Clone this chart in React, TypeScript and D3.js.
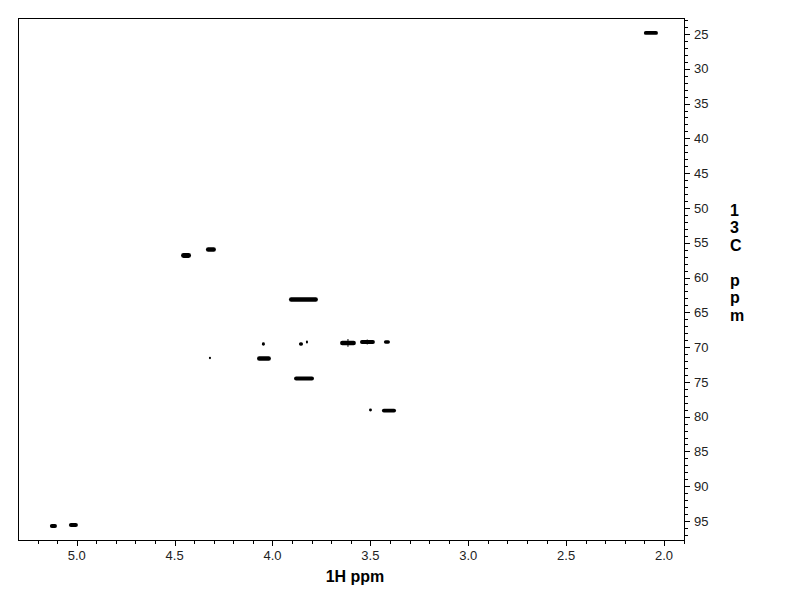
import React from "react";
import * as d3 from "d3";

// 1H ppm range of each cross peak (start, end), 13C shift, and 13C extent (ppm)
const peakHStart = [2.103, 4.467, 4.340, 3.916, 4.054, 3.865, 3.829, 3.655, 3.617, 3.553, 3.520, 3.431, 4.325, 4.079, 3.890, 3.507, 3.441, 5.137, 5.040];
const peakHEnd   = [2.031, 4.416, 4.289, 3.768, 4.039, 3.844, 3.819, 3.574, 3.612, 3.477, 3.512, 3.400, 4.314, 4.008, 3.788, 3.492, 3.369, 5.101, 4.994];
const peakC      = [24.85, 56.84, 55.98, 63.16, 69.56, 69.56, 69.27, 69.42, 69.42, 69.27, 69.27, 69.27, 71.57, 71.64, 74.52, 79.05, 79.12, 95.72, 95.58];
const peakCWidth = [0.40, 0.55, 0.50, 0.50, 0.35, 0.35, 0.30, 0.50, 1.00, 0.40, 0.60, 0.35, 0.20, 0.50, 0.45, 0.30, 0.40, 0.40, 0.45];

const hDomain = [5.30, 1.898];
const cDomain = [22.7, 97.73];
const hMajorTicks = [5.0, 4.5, 4.0, 3.5, 3.0, 2.5, 2.0];
const cMajorTicks = [25, 30, 35, 40, 45, 50, 55, 60, 65, 70, 75, 80, 85, 90, 95];
const xTitle = "1H ppm";
const yTitleChars = ["1", "3", "C", "", "p", "p", "m"];

const W = 792, H = 612;
const L = 18, R = 684, T = 18, B = 540;

export default function App() {
  const x = d3.scaleLinear().domain(hDomain).range([L, R]);
  const y = d3.scaleLinear().domain(cDomain).range([T, B]);

  const hMinor = d3.range(19, 53).map((v) => v / 10);
  const cMinor = d3.range(23, 98);

  const font = "Arial, 'Liberation Sans', sans-serif";

  return (
    <svg width={W} height={H} style={{ position: "absolute", left: 0, top: 0, background: "#fff" }}>
      <rect x={0} y={0} width={W} height={H} fill="#fff" />
      <rect x={L + 0.5} y={T + 0.5} width={R - L} height={B - T} fill="none" stroke="#000" strokeWidth={1} />
      {/* x ticks */}
      {hMinor.map((v, i) => {
        const px = Math.round(x(v)) + 0.5;
        const major = hMajorTicks.some((m) => Math.abs(m - v) < 1e-6);
        return <line key={"hx" + i} x1={px} x2={px} y1={B} y2={B + (major ? 6 : 4)} stroke="#000" strokeWidth={1} />;
      })}
      {hMajorTicks.map((v, i) => (
        <text key={"hl" + i} x={x(v)} y={B + 20} textAnchor="middle" fontFamily={font} fontSize={13} fill="#222">
          {v.toFixed(1)}
        </text>
      ))}
      {/* y ticks */}
      {cMinor.map((v, i) => {
        const py = Math.round(y(v)) + 0.5;
        const major = cMajorTicks.includes(v);
        return <line key={"cy" + i} x1={R} x2={R + (major ? 6 : 4)} y1={py} y2={py} stroke="#000" strokeWidth={1} />;
      })}
      {cMajorTicks.map((v, i) => (
        <text key={"cl" + i} x={R + 10} y={y(v)} dy="0.36em" textAnchor="start" fontFamily={font} fontSize={13} fill="#222">
          {v}
        </text>
      ))}
      {/* titles */}
      <text x={355} y={582} textAnchor="middle" fontFamily={font} fontSize={16} fontWeight="bold" fill="#000">
        {xTitle}
      </text>
      {yTitleChars.map((c, i) => (
        <text key={"yt" + i} x={730} y={215.5 + i * 17.5} textAnchor="start" fontFamily={font} fontSize={16} fontWeight="bold" fill="#000">
          {c}
        </text>
      ))}
      {/* peaks */}
      {peakC.map((c, i) => {
        const x0 = x(peakHStart[i]);
        const x1 = x(peakHEnd[i]);
        const y0 = y(c - peakCWidth[i] / 2) - 0.5;
        const y1 = y(c + peakCWidth[i] / 2) + 0.5;
        const h = y1 - y0;
        return (
          <rect key={"pk" + i} x={Math.min(x0, x1)} y={y0} width={Math.abs(x1 - x0)} height={h} rx={Math.min(h / 2, Math.abs(x1 - x0) / 2)} fill="#000" />
        );
      })}
    </svg>
  );
}
